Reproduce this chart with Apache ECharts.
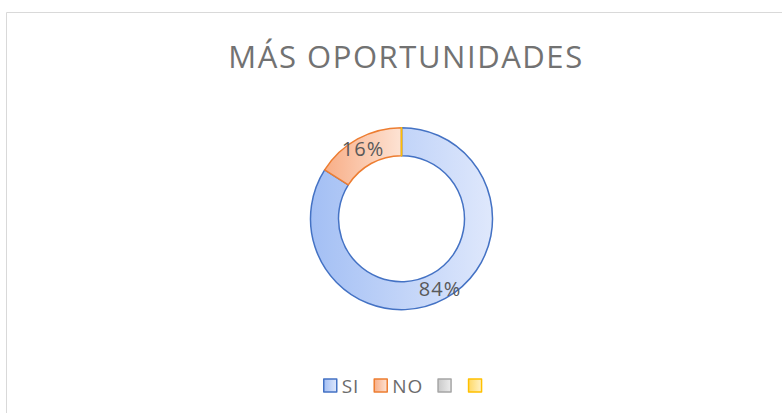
<!DOCTYPE html>
<html>
<head>
<meta charset="utf-8">
<script src="https://cdn.jsdelivr.net/npm/echarts@6/dist/echarts.min.js"></script>
<style>
  html, body { margin: 0; padding: 0; background: #ffffff; }
  #chart { width: 782px; height: 413px; }
  /* espaciado de letras tipo Calibri */
  #chart svg text { letter-spacing: 0.05em; }
</style>
</head>
<body>
<div id="chart"></div>
<script>
// datos del gráfico
const categories = ['SI', 'NO', 'C3', 'C4'];
const values = [84, 16, 0, 0];
const legendLabels = ['SI', 'NO', '', ''];

const fills = [
  ['#a3bff4', '#dfe8fc'],
  ['#f8ae87', '#fde3d4'],
  ['#c9c9c9', '#ececec'],
  ['#ffd966', '#fff2c6']
];
const borders = ['#4472c4', '#ed7d31', '#a5a5a5', '#ffc000'];

const grad = (c) => new echarts.graphic.LinearGradient(0, 0, 1, 0, [
  { offset: 0, color: c[0] },
  { offset: 1, color: c[1] }
]);

const chart = echarts.init(document.getElementById('chart'), null, { renderer: 'svg' });

chart.setOption({
  animation: false,
  textStyle: { fontFamily: 'Open Sans' },
  graphic: [{
    type: 'rect',
    shape: { x: 6.5, y: 12.5, width: 800, height: 430 },
    style: { fill: 'none', stroke: '#d9d9d9', lineWidth: 1 },
    silent: true
  }],
  title: {
    text: 'MÁS OPORTUNIDADES',
    left: 401,
    textAlign: 'center',
    top: 35,
    textStyle: {
      color: '#727272',
      fontSize: 31,
      fontWeight: 'normal',
      fontFamily: 'Open Sans'
    }
  },
  legend: {
    bottom: 18,
    left: 323,
    padding: 0,
    icon: 'rect',
    itemWidth: 13,
    itemHeight: 13,
    itemGap: 16,
    textStyle: { color: '#6b6b6b', fontSize: 19 },
    formatter: (name) => legendLabels[categories.indexOf(name)],
    data: categories.map((c, i) => ({
      name: c,
      itemStyle: { color: grad(fills[i]), borderColor: borders[i], borderWidth: 1.5 }
    }))
  },
  series: [{
    type: 'pie',
    center: [401.5, 218.7],
    radius: [63, 91],
    startAngle: 90,
    clockwise: true,
    avoidLabelOverlap: false,
    label: {
      show: true,
      position: 'inside',
      color: '#595959',
      fontSize: 20,
      fontFamily: 'Open Sans',
      formatter: (p) => (p.value > 0 ? Math.round(p.percent) + '%' : '')
    },
    labelLine: { show: false },
    emphasis: { disabled: true },
    data: categories.map((c, i) => ({
      name: c,
      value: values[i],
      itemStyle: {
        color: grad(fills[i]),
        borderColor: borders[i],
        borderWidth: 1.5
      }
    }))
  }]
});
</script>
</body>
</html>
